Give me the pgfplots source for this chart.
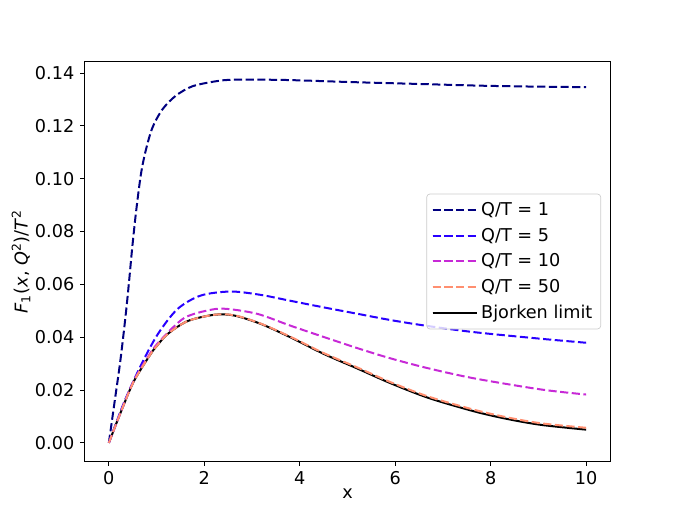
\documentclass[border=0pt]{standalone}
\usepackage{fontspec}
\setmainfont{DejaVu Sans}
\usepackage{pgfplots}
\pgfplotsset{compat=1.18}
\definecolor{cnavy}{RGB}{0,0,128}
\definecolor{cblue}{RGB}{40,0,255}
\definecolor{cmag}{RGB}{199,41,214}
\definecolor{csalmon}{RGB}{255,143,112}
\begin{document}
\begin{tikzpicture}
\begin{axis}[
  scale only axis, width=315pt, height=239.4pt,
  xmin=-0.5, xmax=10.5, ymin=-0.00687, ymax=0.1442,
  xtick={0,2,4,6,8,10},
  ytick={0,0.02,0.04,0.06,0.08,0.10,0.12,0.14},
  scaled y ticks=false,
  yticklabel style={/pgf/number format/.cd, fixed, fixed zerofill, precision=2},
  /pgf/number format/assume math mode=true,
  tick align=outside, tick pos=left,
  major tick length=2.9pt,
  every tick/.style={black, line width=0.6pt},
  axis line style={line width=0.6pt},
  tick label style={font=\fontsize{10.6}{12.7}\selectfont},
  label style={font=\fontsize{10.6}{12.7}\selectfont},
  xlabel={x},
  xlabel style={at={([yshift=-19.6pt]axis description cs:0.5,0)}, anchor=center},
  ylabel={\textit{F}\textsubscript{1}(\textit{x}, \textit{Q}\textsuperscript{2})/\textit{T}\textsuperscript{2}},
  ylabel style={at={([xshift=-38.4pt]axis description cs:0,0.5)}, anchor=center, rotate=0},
  legend cell align=left,
  legend style={at={(axis description cs:0.983,0.5)}, anchor=east,
    draw=black!20, rounded corners=2pt, fill=white, fill opacity=0.8, text opacity=1,
    font=\fontsize{10.6}{12.7}\selectfont, row sep=2.0pt, inner sep=3pt},
  legend image code/.code={\draw[#1] (0pt,0pt) -- (21.6pt,0pt); \path (0pt,0pt) -- (26.5pt,0pt);},
  every axis plot/.append style={line width=1.2pt},
  mydash/.style={dash pattern=on 4.9pt off 2.1pt},
]
% Bjorken limit (drawn first, under the others)
\addplot[black, solid, smooth, forget plot] coordinates {
(0,0) (0.24,0.0112) (0.52,0.0232) (0.87,0.0335) (1.0,0.0366) (1.23,0.0412)
(1.65,0.0461) (2.21,0.0485) (2.63,0.0482) (3.19,0.0450) (3.80,0.0400)
(4.50,0.0337) (5.20,0.0282) (5.90,0.0226) (6.70,0.0170) (7.66,0.0119)
(8.36,0.0090) (9.06,0.0068) (10,0.0050)
};
\addplot[cnavy, mydash, smooth] coordinates {
(0,0) (0.12,0.0155) (0.24,0.031) (0.35,0.048) (0.42,0.0605) (0.49,0.0740)
(0.57,0.0875) (0.67,0.1015) (0.77,0.1105) (0.91,0.1192) (1.12,0.1262)
(1.40,0.1314) (1.75,0.1350) (2.24,0.1369) (2.63,0.1375) (3.68,0.1374)
(5.07,0.1366) (6.47,0.1359) (7.87,0.1352) (9.27,0.1348) (10,0.1347)
};
\addlegendentry{Q/T = 1}
\addplot[cblue, mydash, smooth] coordinates {
(0,0) (0.32,0.0154) (0.67,0.0293) (1.02,0.0410) (1.44,0.0507) (1.93,0.0558)
(2.56,0.0573) (3.19,0.0560) (3.80,0.0538) (4.50,0.0513) (5.20,0.0489)
(5.90,0.0465) (6.66,0.0443) (7.66,0.0419) (9.06,0.0394) (10,0.0379)
};
\addlegendentry{Q/T = 5}
\addplot[cmag, mydash, smooth] coordinates {
(0,0) (0.24,0.0112) (0.52,0.0234) (0.87,0.0340) (1.09,0.0390) (1.58,0.0473)
(2.14,0.0504) (2.49,0.0507) (3.12,0.0488) (3.80,0.0444) (4.50,0.0401)
(5.20,0.0359) (5.90,0.0320) (6.70,0.0282) (7.66,0.0244) (9.06,0.0202) (10,0.0183)
};
\addlegendentry{Q/T = 10}
\addplot[csalmon, mydash, smooth] coordinates {
(0,0) (0.24,0.0112) (0.52,0.0232) (0.87,0.0335) (1.0,0.0366) (1.23,0.0412)
(1.65,0.0461) (2.21,0.0485) (2.63,0.0483) (3.19,0.0451) (3.80,0.0402)
(4.50,0.0340) (5.20,0.0286) (5.90,0.0230) (6.70,0.0175) (7.66,0.0125)
(8.36,0.0096) (9.06,0.0074) (10,0.0057)
};
\addlegendentry{Q/T = 50}
\addlegendimage{black, solid, line width=1.2pt}
\addlegendentry{Bjorken limit}
\end{axis}
\pgfresetboundingbox
\path[use as bounding box] ([xshift=-51pt,yshift=-34.2pt]current axis.south west) rectangle ([xshift=40.8pt,yshift=37.2pt]current axis.north east);
\end{tikzpicture}
\end{document}
